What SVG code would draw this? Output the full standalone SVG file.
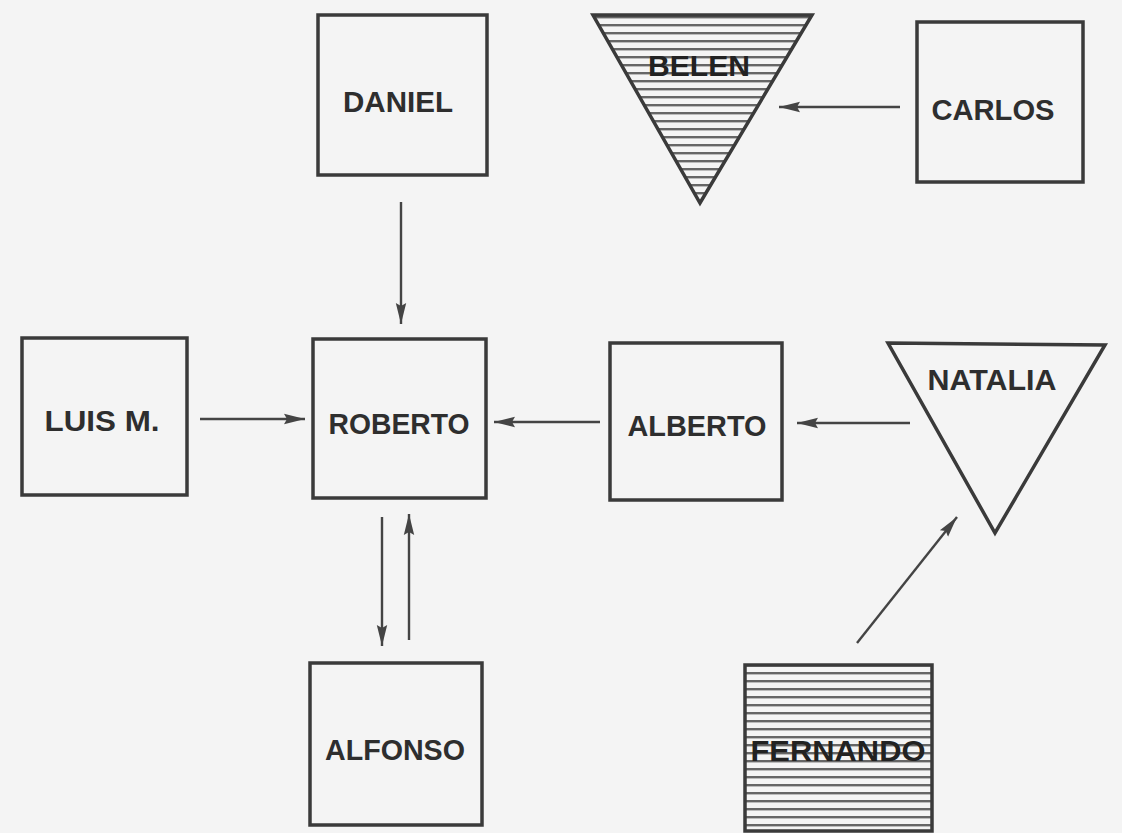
<svg xmlns="http://www.w3.org/2000/svg" width="1122" height="833" viewBox="0 0 1122 833">
<style>
.box{fill:none;stroke:#3a3a3a;stroke-width:3.5}
.tri{fill:none;stroke:#3a3a3a;stroke-width:3.5;stroke-linejoin:miter}
.lbl{font-family:"Liberation Sans","DejaVu Sans",sans-serif;font-weight:bold;font-size:29px;fill:#2e2e2e}
.con{stroke:#444;stroke-width:2.4;fill:none;marker-end:url(#ah)}
</style>
<defs>
<marker id="ah" markerUnits="userSpaceOnUse" markerWidth="22" markerHeight="14" viewBox="0 0 22 14" refX="21" refY="7" orient="auto">
<path d="M0,1.8 L21,7 L0,12.2 L3,7 Z" fill="#444"/>
</marker>
<pattern id="hatch" patternUnits="userSpaceOnUse" width="10" height="8">
<rect width="10" height="8" fill="#f4f4f4"/>
<rect y="0" width="10" height="2.4" fill="#666"/>
</pattern>
</defs>
<rect width="1122" height="833" fill="#f4f4f4"/>

<g id="daniel">
<rect class="box" x="318" y="15" width="169" height="160"/>
<text class="lbl" x="398" y="112" text-anchor="middle" textLength="110" lengthAdjust="spacingAndGlyphs">DANIEL</text>
</g>
<g id="belen">
<polygon points="593,15 812,15 700,203" fill="url(#hatch)" stroke="none"/>
<polygon class="tri" points="593,15 812,15 700,203"/>
<text class="lbl" x="699" y="76" text-anchor="middle" textLength="102" lengthAdjust="spacingAndGlyphs" style="fill:#222">BELEN</text>
</g>
<g id="carlos">
<rect class="box" x="917" y="22" width="166" height="160"/>
<text class="lbl" x="993" y="120" text-anchor="middle" textLength="123" lengthAdjust="spacingAndGlyphs">CARLOS</text>
</g>
<g id="luis">
<rect class="box" x="22" y="338" width="165" height="157"/>
<text class="lbl" x="102" y="431" text-anchor="middle" textLength="115" lengthAdjust="spacingAndGlyphs">LUIS M.</text>
</g>
<g id="roberto">
<rect class="box" x="313" y="339" width="173" height="159"/>
<text class="lbl" x="399" y="434" text-anchor="middle" textLength="141" lengthAdjust="spacingAndGlyphs">ROBERTO</text>
</g>
<g id="alberto">
<rect class="box" x="610" y="343" width="172" height="157"/>
<text class="lbl" x="697" y="436" text-anchor="middle" textLength="139" lengthAdjust="spacingAndGlyphs">ALBERTO</text>
</g>
<g id="natalia">
<polygon class="tri" points="888,343 1105,345 995,533"/>
<text class="lbl" x="992" y="390" text-anchor="middle" textLength="129" lengthAdjust="spacingAndGlyphs">NATALIA</text>
</g>
<g id="alfonso">
<rect class="box" x="310" y="663" width="172" height="162"/>
<text class="lbl" x="395" y="760" text-anchor="middle" textLength="140" lengthAdjust="spacingAndGlyphs">ALFONSO</text>
</g>
<g id="fernando">
<rect x="745" y="665" width="187" height="167" fill="url(#hatch)"/>
<rect class="box" x="745" y="665" width="187" height="166"/>
<text class="lbl" x="838" y="761" text-anchor="middle" textLength="175" lengthAdjust="spacingAndGlyphs" style="fill:#222">FERNANDO</text>
</g>

<g id="connectors">
<line class="con" x1="401" y1="202" x2="401" y2="324"/>
<line class="con" x1="900" y1="107" x2="779" y2="107"/>
<line class="con" x1="200" y1="419" x2="305" y2="419"/>
<line class="con" x1="600" y1="422" x2="494" y2="422"/>
<line class="con" x1="910" y1="423" x2="797" y2="423"/>
<line class="con" x1="382" y1="517" x2="382" y2="646"/>
<line class="con" x1="409" y1="640" x2="409" y2="514"/>
<line class="con" x1="857" y1="643" x2="957" y2="517"/>
</g>
</svg>
